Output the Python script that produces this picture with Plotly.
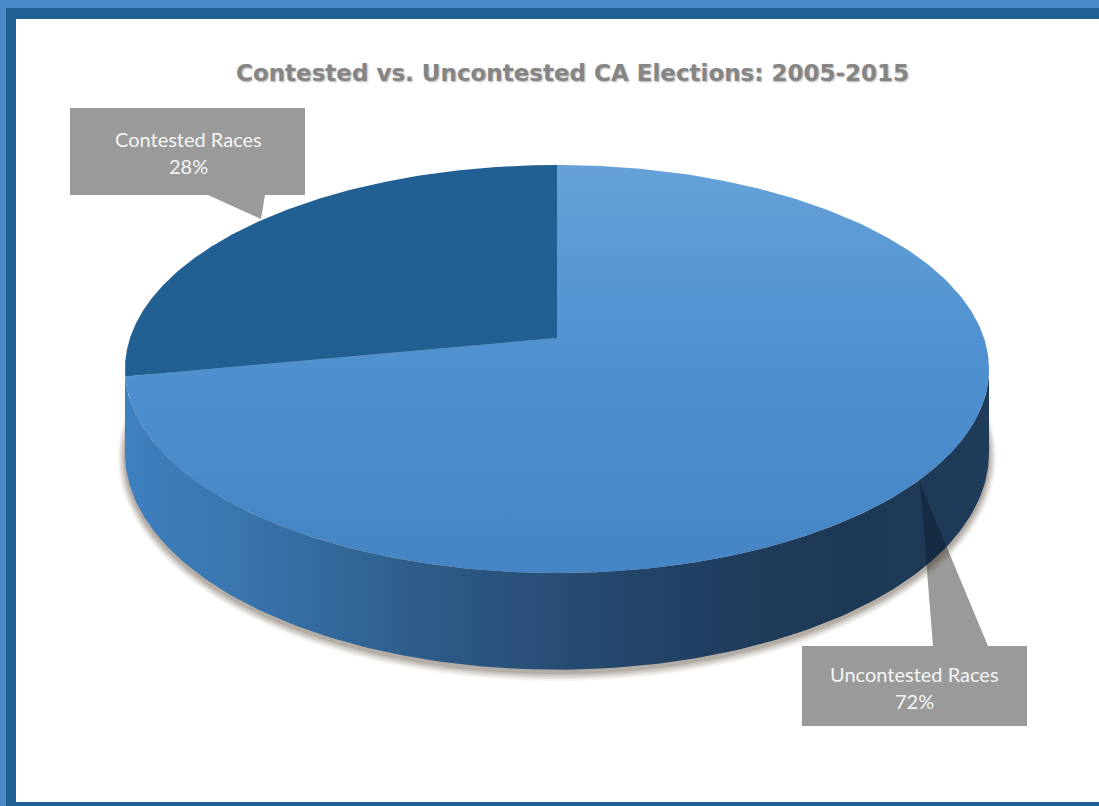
import numpy as np
import plotly.graph_objects as go

# ---------------- data ----------------
labels = ["Uncontested Races", "Contested Races"]
values = [72, 28]
pct_labels = ["72%", "28%"]
chart_title = "Contested vs. Uncontested CA Elections: 2005-2015"

# ---------------- geometry / style constants ----------------
W, Hh = 1099, 806
CX, CY = 557.0, 338.0        # projected pie centre
A, B = 427.0, 199.3          # radii of the tilted disc
K = 0.152                    # perspective factor
DEPTH = 82.0                 # side height
START = 90.0                 # 12 o'clock, clockwise

top_colors = ["#4d8fd0", "#225f92"]
top_scales = [
    [[0, "#4585c5"], [0.55, "#4f91d1"], [1, "#66a1d9"]],
    None,
]
side_scale = [
    [0.00, "#3f80c0"], [0.12, "#3a76b0"], [0.24, "#33699c"],
    [0.35, "#2d5b88"], [0.47, "#295079"], [0.58, "#24466b"],
    [0.70, "#203e5e"], [0.84, "#1d3855"], [1.00, "#1f3c5a"],
]


def top_pt(theta_deg):
    t = np.radians(theta_deg)
    u, v = np.cos(t), np.sin(t)
    d = 1 + K * v
    return CX + A * u / d, CY - B * v / d


def bot_pt(theta_deg):
    t = np.radians(theta_deg)
    v = np.sin(t)
    d = 1 + K * v
    x, y = top_pt(theta_deg)
    return x, y + DEPTH / d


fig = go.Figure()

# ---------------- shadow ----------------
th_all = np.linspace(0, 360, 361)
for e, op in [(7, 0.06), (5.5, 0.08), (4, 0.10), (2.5, 0.12), (1, 0.14)]:
    t = np.radians(th_all)
    u, v = np.cos(t), np.sin(t)
    d = 1 + K * v
    sx = CX + (A + e) * u / d
    sy = CY - (B + e) * v / d + DEPTH / d + 3
    fig.add_trace(go.Scatter(x=sx, y=sy, mode="lines", fill="toself",
                             line=dict(width=0),
                             fillcolor=f"rgba(75,58,40,{op})",
                             hoverinfo="skip"))

# ---------------- side wall ----------------
thL = 180 + np.degrees(np.arcsin(K))
thR = 360 - np.degrees(np.arcsin(K))
ths = np.linspace(thL, thR, 200)
tx, ty = top_pt(ths)
bx, by = bot_pt(ths[::-1])
fig.add_trace(go.Scatter(
    x=np.concatenate([tx, bx]), y=np.concatenate([ty, by]),
    mode="lines", fill="toself", line=dict(width=0),
    fillgradient=dict(type="horizontal", colorscale=side_scale),
    hoverinfo="skip"))

# dark part of the "Uncontested" pointer showing through the side wall
tip = np.array([920.0, 483.0])
baseL = np.array([933.0, 646.0])
baseR = np.array([988.0, 646.0])
arc_th = np.linspace(270, thR, 400)
arc_x, arc_y = bot_pt(arc_th)


def cross(p0, p1):
    lo, hi = 0.0, 1.0
    for _ in range(60):
        m = (lo + hi) / 2
        p = p0 + m * (p1 - p0)
        yb = np.interp(p[0], arc_x, arc_y)
        if p[1] < yb:
            lo = m
        else:
            hi = m
    return p0 + lo * (p1 - p0)


pl = cross(tip, baseL)
pr = cross(tip, baseR)
mask = (arc_x > pl[0]) & (arc_x < pr[0])
ox = np.concatenate([[tip[0], pl[0]], arc_x[mask], [pr[0], tip[0]]])
oy = np.concatenate([[tip[1], pl[1]], arc_y[mask], [pr[1], tip[1]]])
fig.add_trace(go.Scatter(x=ox, y=oy, mode="lines", fill="toself",
                         line=dict(width=0), fillcolor="rgba(8,18,30,0.35)",
                         hoverinfo="skip"))

# ---------------- top faces ----------------
fracs = np.array(values, dtype=float) / sum(values)
a0 = START
for i, f in enumerate(fracs):
    a1 = a0 - 360 * f
    th = np.linspace(a0, a1, 300)
    ax_, ay_ = top_pt(th)
    xs = np.concatenate([[CX], ax_, [CX]])
    ys = np.concatenate([[CY], ay_, [CY]])
    kw = dict(fillcolor=top_colors[i])
    if top_scales[i] is not None:
        kw = dict(fillgradient=dict(type="vertical", colorscale=top_scales[i]))
    fig.add_trace(go.Scatter(x=xs, y=ys, mode="lines", fill="toself",
                             line=dict(width=0), name=labels[i],
                             hoverinfo="name", **kw))
    a0 = a1

# ---------------- frame & callouts ----------------
shapes = [
    dict(type="rect", x0=6, y0=8, x1=1200, y1=900, fillcolor="#1f5f93",
         line=dict(width=0), layer="below"),
    dict(type="rect", x0=16, y0=19, x1=1200, y1=802, fillcolor="#ffffff",
         line=dict(width=0), layer="below"),
    dict(type="path",
         path="M 70 108 L 305 108 L 305 195 L 265 195 L 261 219 L 208 195 L 70 195 Z",
         fillcolor="#9a9a9a", line=dict(width=0), layer="below"),
    dict(type="path",
         path="M 802 646 L 933 646 L 920 483 L 988 646 L 1027 646 L 1027 726 L 802 726 Z",
         fillcolor="#9a9a9a", line=dict(width=0), layer="below"),
]

lab_font = dict(family="Lato, Open Sans, sans-serif", size=20, color="#f4f4f4")
annotations = [
    dict(x=572, y=73, text=chart_title, showarrow=False, xref="x", yref="y",
         xanchor="center", yanchor="middle",
         font=dict(family="DejaVu Sans", size=23, color="#858585", weight="bold",
                   shadow="1px 1px 2px rgba(0,0,0,0.3)")),
    dict(x=188, y=139, text=labels[1], showarrow=False, font=lab_font,
         xanchor="center", yanchor="middle"),
    dict(x=188, y=166, text=pct_labels[1], showarrow=False, font=lab_font,
         xanchor="center", yanchor="middle"),
    dict(x=914, y=674, text=labels[0], showarrow=False, font=lab_font,
         xanchor="center", yanchor="middle"),
    dict(x=914, y=701, text=pct_labels[0], showarrow=False, font=lab_font,
         xanchor="center", yanchor="middle"),
]

fig.update_layout(
    width=W, height=Hh, margin=dict(l=0, r=0, t=0, b=0),
    paper_bgcolor="#4a8acb", plot_bgcolor="#4a8acb",
    showlegend=False, shapes=shapes, annotations=annotations,
    xaxis=dict(range=[0, W], visible=False, fixedrange=True),
    yaxis=dict(range=[Hh, 0], visible=False, fixedrange=True),
)

fig.write_html("out.html", config={"displayModeBar": False})
